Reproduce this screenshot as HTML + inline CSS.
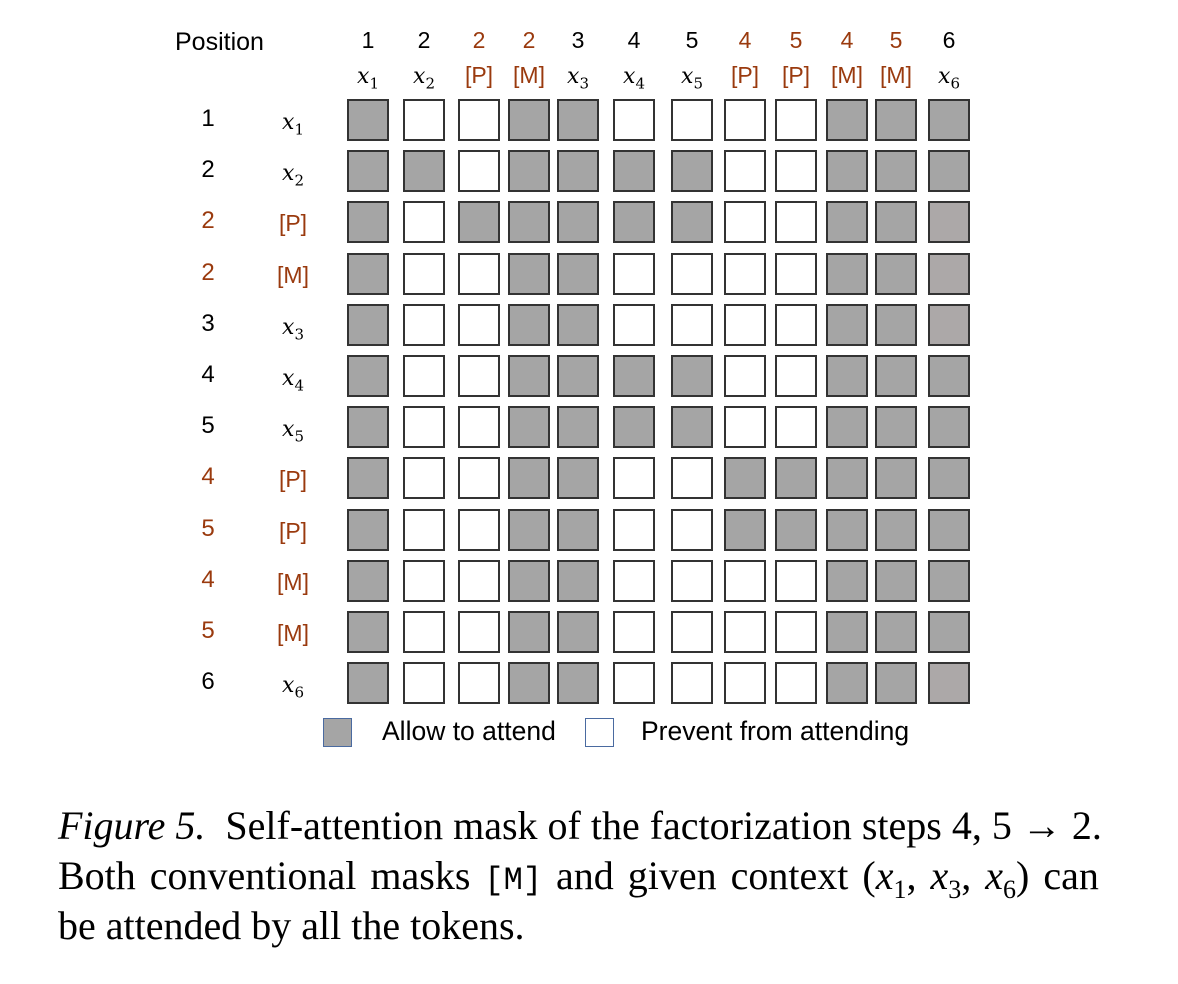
<!DOCTYPE html>
<html><head><meta charset="utf-8"><style>
body{margin:0;width:1178px;height:984px;background:#fff;position:relative;overflow:hidden;font-family:"Liberation Sans",sans-serif;}
.a{position:absolute;white-space:nowrap;}
.cell{position:absolute;box-sizing:border-box;border:2px solid #333;width:42px;height:42px;}
.lab{font-size:23px;transform:translateX(-50%);}
.rl{font-size:24px;}
.br{color:#9a3a0e;}
.m{font-family:"DejaVu Serif","Liberation Serif",serif;font-style:italic;font-size:22px;}
.m sub{font-style:normal;font-size:15px;}
.cap{font-family:"Liberation Serif",serif;font-size:40px;left:58px;}
</style></head><body>
<div class="a" style="left:175px;top:28px;font-size:25px;">Position</div>
<div id="chart"></div>
<div class="a" style="left:323px;top:718px;width:29px;height:29px;box-sizing:border-box;border:1.5px solid #4a6aa0;background:#a5a5a5;"></div>
<div class="a" style="left:382px;top:716px;font-size:26.5px;">Allow to attend</div>
<div class="a" style="left:585px;top:718px;width:29px;height:29px;box-sizing:border-box;border:1.5px solid #4a6aa0;background:#fff;"></div>
<div class="a" style="left:641px;top:716px;font-size:26.5px;">Prevent from attending</div>
<div class="a cap" style="top:802px;"><i>Figure 5.</i>&nbsp; Self-attention mask of the factorization steps 4, 5 → 2.</div>
<div class="a cap" style="top:852px;word-spacing:4px;">Both conventional masks <span style="font-family:'Liberation Mono',monospace;font-size:32px;">[M]</span> and given context (<i>x</i><sub style="font-size:26px">1</sub>, <i>x</i><sub style="font-size:26px">3</sub>, <i>x</i><sub style="font-size:26px">6</sub>) can</div>
<div class="a cap" style="top:902px;">be attended by all the tokens.</div>
<script>
const positions=["1","2","2","2","3","4","5","4","5","4","5","6"];
const tokens=["x1","x2","[P]","[M]","x3","x4","x5","[P]","[P]","[M]","[M]","x6"];
const highlighted=[0,0,1,1,0,0,0,1,1,1,1,0];
// 1 = allow (gray), 0 = prevent, 2 = allow (lighter gray)
const mask=[
[1,0,0,1,1,0,0,0,0,1,1,1],
[1,1,0,1,1,1,1,0,0,1,1,1],
[1,0,1,1,1,1,1,0,0,1,1,2],
[1,0,0,1,1,0,0,0,0,1,1,2],
[1,0,0,1,1,0,0,0,0,1,1,2],
[1,0,0,1,1,1,1,0,0,1,1,1],
[1,0,0,1,1,1,1,0,0,1,1,1],
[1,0,0,1,1,0,0,1,1,1,1,1],
[1,0,0,1,1,0,0,1,1,1,1,1],
[1,0,0,1,1,0,0,0,0,1,1,1],
[1,0,0,1,1,0,0,0,0,1,1,1],
[1,0,0,1,1,0,0,0,0,1,1,2]];
const colX=[347,403,458,508,557,613,671,724,775,826,875,928];
const fills=["#ffffff","#a5a5a5","#aca8a8"];
const rowY=i=>99+i*51.2;
const root=document.getElementById('chart');
function tokHTML(t){return t[0]==='x'?'<span class="m">x<sub>'+t.slice(1)+'</sub></span>':t;}
function add(x,y,html,br,extra){const d=document.createElement('div');d.className='a lab'+(br?' br':'')+(extra||'');d.style.left=x+'px';d.style.top=y+'px';d.innerHTML=html;root.appendChild(d);return d;}
tokens.forEach((t,j)=>{
  const cx=colX[j]+21;
  const p=add(cx,27,positions[j],highlighted[j]);
  
  
  const k=add(cx,62,tokHTML(t),highlighted[j]);
  
  
});
tokens.forEach((t,i)=>{
  const y=rowY(i);
  const p=add(208,y+6,positions[i],highlighted[i],' rl');
  
  
  const k=add(293,y+9,tokHTML(t),highlighted[i]);
  
  
  mask[i].forEach((v,j)=>{
    const c=document.createElement('div');
    c.className='cell';
    c.style.left=colX[j]+'px';c.style.top=y+'px';c.style.background=fills[v];
    
    
    root.appendChild(c);
  });
});
</script>
</body></html>
